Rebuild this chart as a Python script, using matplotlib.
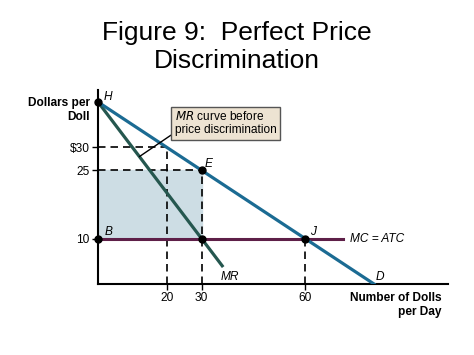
import numpy as np
import matplotlib.pyplot as plt

plt.rcParams['font.family'] = ['Liberation Sans', 'DejaVu Sans']

# demand: P = 40 - 0.5 Q ; MR: P = 40 - Q ; MC = ATC = 10
demand_q = [0, 80]
demand_p = [40, 0]
mr_q = [0, 36]
mr_p = [40, 4]
mc_q = [0, 71]
mc_p = [10, 10]

points_q = [0, 30, 0, 30, 60]
points_p = [40, 25, 10, 10, 10]

xticks = [20, 30, 60]
xticklabels = ['20', '30', '60']
yticks = [10, 25, 30]
yticklabels = ['10', '25', '$30']

fs = 8.6

fig = plt.figure(figsize=(4.74, 3.55), dpi=100)
ax = fig.add_axes([98 / 474, 71 / 355, 350 / 474, 194 / 355])
ax.set_xlim(0, 350 / 3.45)
ax.set_ylim(0, 194 / 4.55)

# consumer surplus area turned into profit
ax.fill_between([0, 30], 10, 25, color='#cddde4', zorder=1)

# dashed guides
dash = dict(color='black', lw=1.2, ls=(0, (4.5, 3)), zorder=2)
ax.plot([0, 20], [30, 30], **dash)
ax.plot([20, 20], [0, 30], **dash)
ax.plot([0, 30], [25, 25], **dash)
ax.plot([30, 30], [0, 25], **dash)
ax.plot([60, 60], [0, 10], **dash)

ax.plot(mc_q, mc_p, color='#5e1f48', lw=2.2, zorder=3)
ax.plot(mr_q, mr_p, color='#25574f', lw=2.3, zorder=4)
ax.plot(demand_q, demand_p, color='#1b6b93', lw=2.3, zorder=4)
ax.plot(points_q, points_p, 'o', color='black', ms=5, zorder=6, clip_on=False)

for s in ['top', 'right']:
    ax.spines[s].set_visible(False)
for s in ['left', 'bottom']:
    ax.spines[s].set_linewidth(1.5)

ax.set_xticks(xticks)
ax.set_xticklabels(xticklabels)
ax.set_yticks(yticks)
ax.set_yticklabels(yticklabels)
ax.tick_params(length=4, width=1, labelsize=fs, pad=2)

it = dict(fontsize=fs, style='italic')
ax.text(1.5, 40.5, 'H', **it)
ax.text(31, 25.8, 'E', **it)
ax.text(1.8, 10.8, 'B', **it)
ax.text(61.5, 10.8, 'J', **it)
ax.text(80.5, 0.8, 'D', **it)
ax.text(35.5, 0.8, 'MR', **it)
ax.text(73, 10, 'MC = ATC', fontsize=fs, style='italic', va='center')

ax.text(-2.3, 38.3, 'Dollars per\nDoll', fontsize=fs, fontweight='bold',
        ha='right', va='center', linespacing=1.2)
ax.text(99.5, -1.8, 'Number of Dolls\nper Day', fontsize=fs, fontweight='bold',
        ha='right', va='top', linespacing=1.15)

ax.annotate('$\\mathit{MR}$ curve before\nprice discrimination',
            xy=(12, 28), xytext=(22.3, 35.3), fontsize=fs, ha='left', va='center',
            linespacing=1.1,
            bbox=dict(boxstyle='square,pad=0.3', fc='#ede3d2', ec='#555555', lw=1),
            arrowprops=dict(arrowstyle='-', color='black', lw=1,
                            shrinkA=0, shrinkB=0, relpos=(0, 0.15)),
            zorder=7)

fig.text(0.5, 0.94, 'Figure 9:  Perfect Price\nDiscrimination', fontsize=19,
         ha='center', va='top', linespacing=1.2)

fig.savefig('out.png', dpi=100)
